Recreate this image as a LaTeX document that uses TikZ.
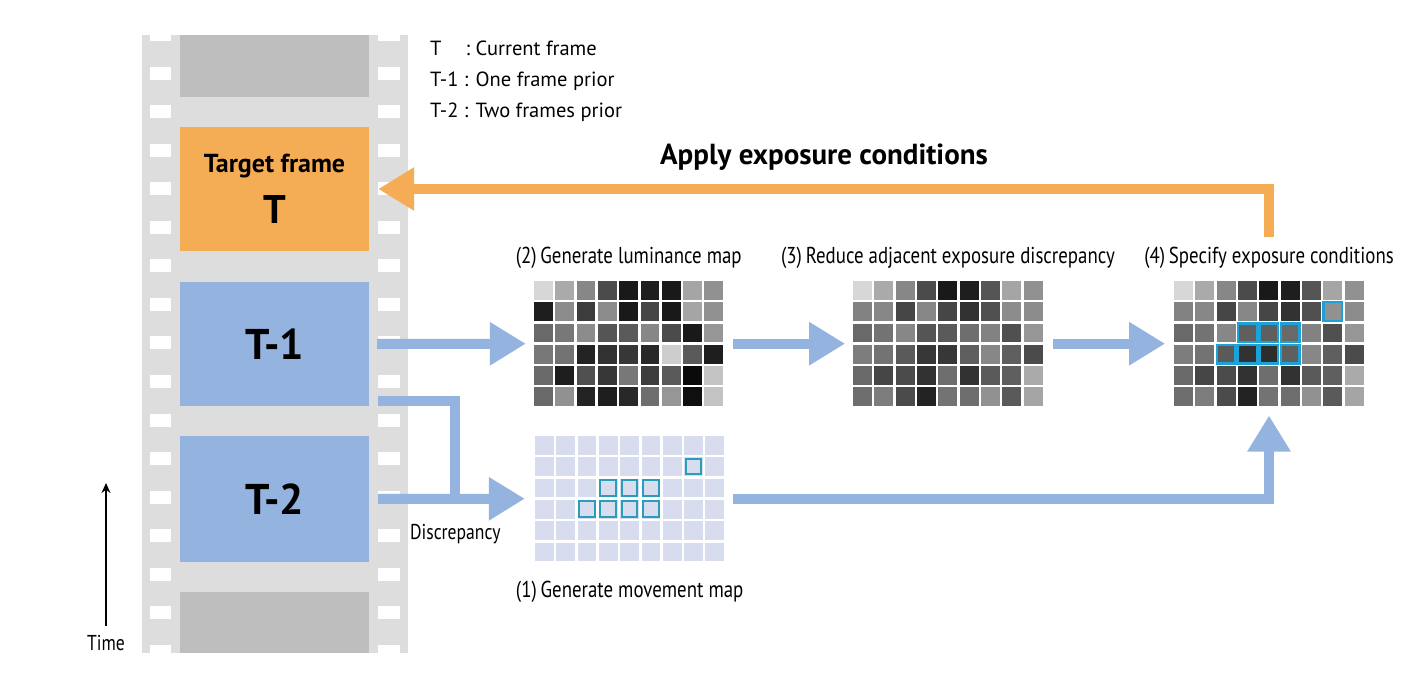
\documentclass[tikz,border=0pt]{standalone}
\usepackage{fontspec}
\setmainfont{PT Sans}
\newfontfamily\narrowfont[FakeStretch=0.82]{PT Sans}
\usetikzlibrary{arrows.meta,positioning,calc}
\definecolor{stripgray}{HTML}{DDDDDD}
\definecolor{blankgray}{HTML}{BEBEBE}
\definecolor{targetorange}{HTML}{F5AD55}
\definecolor{priorblue}{HTML}{95B3DF}
\definecolor{movecell}{HTML}{D7DDEF}
\definecolor{movecyan}{HTML}{2A9DB8}
\tikzset{
  frame/.style={rectangle,inner sep=0pt,minimum width=189pt,minimum height=124pt},
  gridbox/.style={rectangle,inner sep=0pt,minimum width=189.3pt,minimum height=125.3pt},
  steplabel/.style={inner sep=0pt,font=\narrowfont\fontsize{23}{26}\selectfont},
  smalllabel/.style={inner sep=0pt,font=\narrowfont\fontsize{21.5}{24}\selectfont},
  legend/.style={inner sep=0pt,font=\fontsize{20.5}{31}\selectfont,align=left},
  flow/.style={draw=priorblue,line width=10pt},
  flow arrow/.style={flow,-{Triangle[width=41pt,length=36pt]}},
  apply arrow/.style={draw=targetorange,line width=10pt,
    -{Triangle[width=41pt,length=36pt]}},
  hl cell/.style={draw=cyan!75!teal,line width=2.2pt},
  hl move/.style={draw=movecyan,line width=2pt}
}

\begin{document}
\begin{tikzpicture}[x=1pt,y=-1pt]
  \useasboundingbox (0,0) rectangle (1424,700);
  % film strip
  \fill[stripgray] (142,35) rectangle (408,653);
  \begin{scope}
    \clip (142,35) rectangle (408,653);
    \foreach \k in {0,...,16} {
      \fill[white] (150,{28.5+38.5*\k}) rectangle (171,{41.5+38.5*\k});
      \fill[white] (378,{28.5+38.5*\k}) rectangle (400,{41.5+38.5*\k});
    }
  \end{scope}
  \node[frame,fill=blankgray,minimum height=62pt] (next) at (274.5,66) {};
  \node[frame,fill=targetorange,align=center] (tgt) at (274.5,189)
    {\fontsize{26}{28}\selectfont\bfseries Target frame\\[17pt]
     \fontsize{40}{40}\selectfont\bfseries T};
  \node[frame,fill=priorblue] (t1) at (274.5,344)
    {\fontsize{43}{46}\selectfont\bfseries T-1};
  \node[frame,fill=priorblue,minimum height=126pt] (t2) at (274.5,499)
    {\fontsize{43}{46}\selectfont\bfseries T-2};
  \node[frame,fill=blankgray,minimum height=61pt] (prev) at (274.5,622.5) {};

  % legend
  \node[legend,anchor=north west] (key) at (430,34)
    {\begin{tabular}{@{}l@{ : }l@{}}
      T\hspace{16pt} & Current frame\\
      T-1 & One frame prior\\
      T-2 & Two frames prior
     \end{tabular}};

  % maps
  \node[gridbox] (lum) at (628.7,343.7) {};
  \node[gridbox] (red) at (948,343.7) {};
  \node[gridbox] (spec) at (1269,343.7) {};
  \node[gridbox] (mov) at (629.7,498.7) {};
  \node[steplabel,above=12pt of lum] (lumtitle) {(2)\,Generate luminance map};
  \node[steplabel,above=12pt of red] (redtitle) {(3)\,Reduce adjacent exposure discrepancy};
  \node[steplabel,above=12pt of spec] (spectitle) {(4)\,Specify exposure conditions};
  \node[steplabel,below=19pt of mov] (movtitle) {(1)\,Generate movement map};

  \begin{scope}[shift={(lum.north west)}]
    \foreach \row [count=\r] in {
        {215,170,135,75,25,30,25,165,145},
        {30,140,60,140,25,70,25,165,145},
        {105,120,140,85,90,135,75,25,150},
        {120,115,35,50,55,40,205,90,30},
        {105,30,80,55,120,60,90,10,195},
        {105,145,35,30,40,110,150,15,195}}
      \foreach \g [count=\c] in \row
        \fill[fill={rgb,255:red,\g;green,\g;blue,\g}]
          ({(\c-1)*21.33},{(\r-1)*21.33}) rectangle ++(18.7,18.7);
  \end{scope}
  \begin{scope}[shift={(red.north west)}]
    \foreach \row [count=\r] in {
        {215,170,135,75,25,30,85,165,145},
        {130,135,70,135,70,50,80,140,140},
        {105,115,135,85,90,110,130,80,150},
        {125,115,90,55,55,95,135,95,75},
        {105,70,75,50,110,50,90,95,170},
        {110,125,75,35,115,110,145,90,165}}
      \foreach \g [count=\c] in \row
        \fill[fill={rgb,255:red,\g;green,\g;blue,\g}]
          ({(\c-1)*21.33},{(\r-1)*21.33}) rectangle ++(18.7,18.7);
  \end{scope}
  \begin{scope}[shift={(spec.north west)}]
    \foreach \row [count=\r] in {
        {215,170,135,75,25,30,85,165,145},
        {130,135,70,135,70,50,80,145,140},
        {105,115,135,95,95,105,130,80,150},
        {125,115,90,50,45,95,135,95,75},
        {105,70,75,50,110,50,90,95,170},
        {110,125,75,35,115,110,145,90,165}}
      \foreach \g [count=\c] in \row
        \fill[fill={rgb,255:red,\g;green,\g;blue,\g}]
          ({(\c-1)*21.33},{(\r-1)*21.33}) rectangle ++(18.7,18.7);
    \foreach \c/\r in {8/2,4/3,5/3,6/3,3/4,4/4,5/4,6/4}
      \draw[hl cell] ({(\c-1)*21.33},{(\r-1)*21.33}) rectangle ++(18.7,18.7);
  \end{scope}
  \begin{scope}[shift={(mov.north west)}]
    \foreach \r in {1,...,6}
      \foreach \c in {1,...,9}
        \fill[movecell] ({(\c-1)*21.33},{(\r-1)*21.33}) rectangle ++(18.7,18.7);
    \foreach \c/\r in {8/2,4/3,5/3,6/3,3/4,4/4,5/4,6/4}
      \draw[hl move] ({(\c-1)*21.33+1.6},{(\r-1)*21.33+1.6}) rectangle ++(15.5,15.5);
  \end{scope}

  % arrows
  \coordinate (join) at ($(t2.east)!0.52!(mov.west)$);
  \draw[flow,shorten <=9pt] ([yshift=5pt]t1.south east) -| (join);
  \draw[flow arrow,shorten <=9pt,shorten >=10pt] (t2.east) -- (mov.west);
  \draw[flow arrow,shorten <=8pt,shorten >=8pt] (t1.east) -- (lum.west);
  \draw[flow arrow,shorten <=9pt,shorten >=8pt] (lum.east) -- (red.west);
  \draw[flow arrow,shorten <=10pt,shorten >=9pt] (red.east) -- (spec.west);
  \draw[flow arrow,shorten <=8pt,shorten >=9pt] (mov.east) -| (spec.south);
  \draw[apply arrow,shorten <=10pt,shorten >=9pt] (spectitle.north) |- (tgt.east);
  \node[font=\fontsize{29}{32}\selectfont\bfseries] (applytext) at (824,157)
    {Apply exposure conditions};
  \node[smalllabel,below=25pt of join] (disc) {Discrepancy};

  % time axis
  \node[smalllabel] (time) at (106,643) {Time};
  \coordinate (timetip) at (106,483);
  \draw[line width=1.5pt,-{Stealth[length=10pt,width=9pt]}] ([yshift=9pt]time.north) -- (timetip);
\end{tikzpicture}
\end{document}
